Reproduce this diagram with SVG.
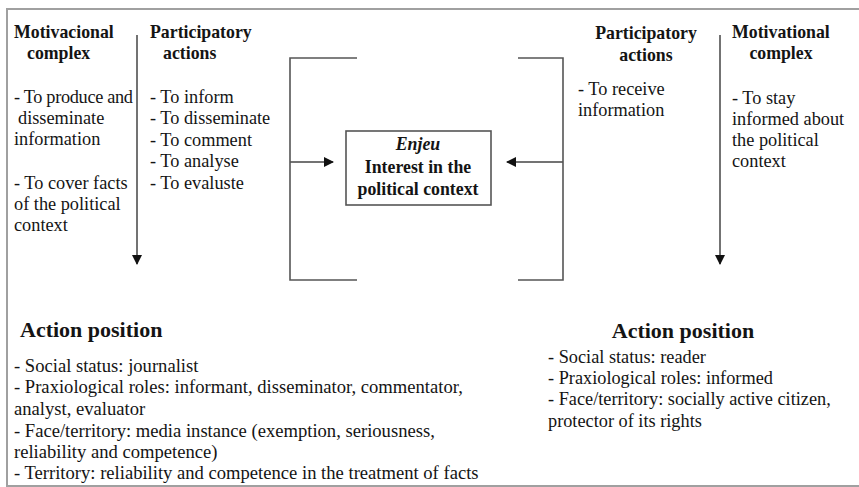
<svg xmlns="http://www.w3.org/2000/svg" width="859" height="487" viewBox="0 0 859 487">
<style>
text{font-family:"Liberation Serif","Times New Roman",serif;fill:#141414;font-size:18.3px}
.b{font-weight:bold;font-size:17.8px}
.h{font-weight:bold;font-size:22px}
.c{text-anchor:middle}
.s{font-size:18.6px}
.ln{stroke:#555;stroke-width:1.6;fill:none}
.ar{stroke:#444;stroke-width:1.5;fill:none}
.fr{stroke:#a0a0a0;stroke-width:2;fill:none}
</style>
<defs>
<marker id="ah" markerWidth="10" markerHeight="10" refX="9" refY="5" orient="auto" markerUnits="userSpaceOnUse">
<path d="M0,0 L10,5 L0,10 Z" fill="#111"/>
</marker>
</defs>
<rect x="0" y="0" width="859" height="487" fill="#fff"/>
<g id="frame">
<path class="fr" d="M7,487 L7,9 L859,9"/>
<path class="fr" d="M7,486 L859,486"/>
</g>
<g id="connectors">
<line class="ar" x1="137" y1="35" x2="137" y2="264" marker-end="url(#ah)"/>
<line class="ar" x1="720" y1="35" x2="720" y2="264" marker-end="url(#ah)"/>
<line class="ar" x1="290" y1="162" x2="333" y2="162" marker-end="url(#ah)"/>
<line class="ar" x1="563" y1="162" x2="507" y2="162" marker-end="url(#ah)"/>
<path class="ln" d="M357,58 L290,58 L290,280 L357,280"/>
<path class="ln" d="M518,58 L563,58 L563,280 L518,280"/>
</g>
<g id="left-motivational">
<text class="b" x="14" y="38">Motivacional</text>
<text class="b" x="27" y="59">complex</text>
<text x="14" y="103" textLength="119">- To produce and</text>
<text x="18" y="124">disseminate</text>
<text x="14" y="145">information</text>
<text x="14" y="189">- To cover facts</text>
<text x="14" y="210">of the political</text>
<text x="14" y="231">context</text>
</g>
<g id="left-participatory">
<text class="b" x="150" y="38">Participatory</text>
<text class="b" x="163" y="59">actions</text>
<text x="150" y="103">- To inform</text>
<text x="150" y="124">- To disseminate</text>
<text x="150" y="146">- To comment</text>
<text x="150" y="167">- To analyse</text>
<text x="150" y="189">- To evaluste</text>
</g>
<g id="enjeu">
<rect x="346" y="131" width="145" height="74" fill="#fff" stroke="#555" stroke-width="1.6"/>
<text class="b c" x="418" y="150" font-style="italic">Enjeu</text>
<text class="b c" x="418" y="173">Interest in the</text>
<text class="b c" x="418" y="195">political context</text>
</g>
<g id="right-participatory">
<text class="b c" x="646" y="39">Participatory</text>
<text class="b c" x="646" y="61">actions</text>
<text x="578" y="95">- To receive</text>
<text x="578" y="116">information</text>
</g>
<g id="right-motivational">
<text class="b" x="732" y="38">Motivational</text>
<text class="b c" x="781" y="59">complex</text>
<text x="732" y="104">- To stay</text>
<text x="732" y="125">informed about</text>
<text x="732" y="146">the political</text>
<text x="732" y="167">context</text>
</g>
<g id="left-action">
<text class="h" x="20" y="337">Action position</text>
<text class="s" x="14" y="372">- Social status: journalist</text>
<text class="s" x="14" y="393">- Praxiological roles: informant, disseminator, commentator,</text>
<text class="s" x="14" y="415">analyst, evaluator</text>
<text class="s" x="14" y="437">- Face/territory: media instance (exemption, seriousness,</text>
<text class="s" x="14" y="458">reliability and competence)</text>
<text class="s" x="14" y="479">- Territory: reliability and competence in the treatment of facts</text>
</g>
<g id="right-action">
<text class="h c" x="683" y="338">Action position</text>
<text x="548" y="363">-  Social status: reader</text>
<text x="548" y="384">- Praxiological roles: informed</text>
<text x="548" y="405">- Face/territory: socially active citizen,</text>
<text x="548" y="427">protector of its rights</text>
</g>
</svg>
